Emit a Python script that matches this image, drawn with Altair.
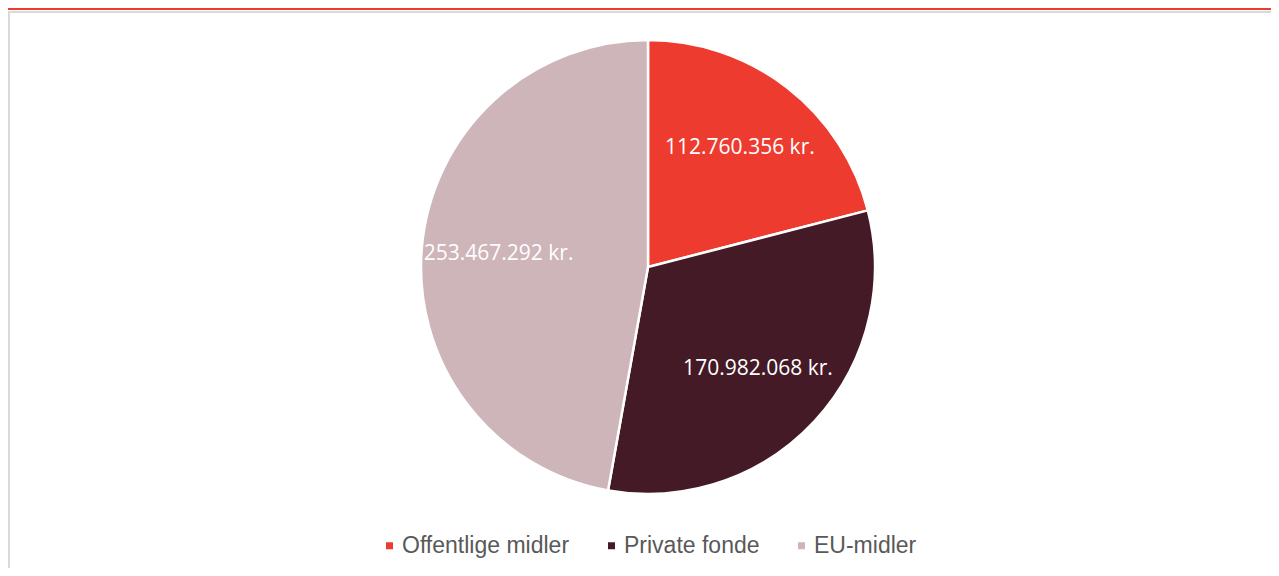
import altair as alt
import pandas as pd

categories = ["Offentlige midler", "Private fonde", "EU-midler"]
values = [112760356, 170982068, 253467292]
labels = ["112.760.356 kr.", "170.982.068 kr.", "253.467.292 kr."]
colors = ["#EE3B2F", "#431A25", "#CDB5B9"]
rank = [0, 1, 2]

df = pd.DataFrame({"kategori": categories, "beloeb": values, "label": labels, "rk": rank})

W, H = 1263, 560
cx, cy, R = 640, 259, 227

frame_df = pd.DataFrame({"k": [0]})
red_line = alt.Chart(frame_df).mark_rect(color="#EE3B2F").encode(
    x=alt.value(0), x2=alt.value(W + 10), y=alt.value(0), y2=alt.value(2)
)
border = alt.Chart(frame_df).mark_rect(fill=None, stroke="#D9D9D9", strokeWidth=2).encode(
    x=alt.value(1), x2=alt.value(W + 10), y=alt.value(4), y2=alt.value(H + 10)
)

base = alt.Chart(df).encode(
    theta=alt.Theta("beloeb:Q", stack=True),
    order=alt.Order("rk:O"),
)

pie = base.mark_arc(stroke="white", strokeWidth=2.5, outerRadius=R).encode(
    x=alt.value(cx),
    y=alt.value(cy),
    color=alt.Color(
        "kategori:N",
        sort=categories,
        scale=alt.Scale(domain=categories, range=colors),
        legend=alt.Legend(
            title=None,
            orient="none",
            direction="horizontal",
            legendX=370,
            legendY=526,
            symbolType="square",
            symbolSize=49,
            symbolStrokeWidth=0,
            labelFont="Liberation Sans",
            labelFontSize=23,
            labelColor="#595959",
            labelLimit=400,
            labelOffset=1,
            columnPadding=30,
        ),
    ),
)

text = base.mark_text(radius=150, color="white", font="Open Sans", fontSize=21).encode(
    x=alt.value(cx),
    y=alt.value(cy),
    text="label:N",
)

chart = alt.layer(red_line, border, pie, text).properties(
    width=W, height=H, autosize=alt.AutoSizeParams(type="none"), padding=0, background="white"
).configure_view(stroke=None)

chart.save("out.html", embed_options={"renderer": "svg", "actions": False})
